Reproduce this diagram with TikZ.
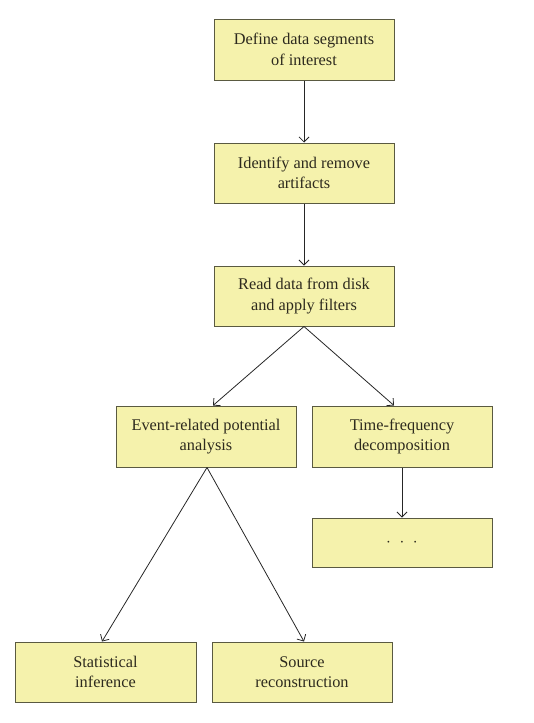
\documentclass[tikz,border=0pt]{standalone}
\usepackage{fontspec}
\setmainfont{Liberation Serif}
\usetikzlibrary{arrows.meta}
\definecolor{boxfill}{RGB}{245,242,172}
\definecolor{boxdraw}{RGB}{90,90,65}
\definecolor{txt}{RGB}{45,42,30}
\tikzset{
  flowbox/.style={draw=boxdraw, line width=1pt, fill=boxfill, minimum width=180pt,
    minimum height=60pt, inner sep=0pt, align=center, text=txt,
    font=\fontsize{16.3}{20.5}\selectfont},
  conn/.style={draw=black!85, line width=0.8pt, -{Straight Barb[length=5pt,width=10pt,line width=0.8pt]}}
}
\begin{document}
\begin{tikzpicture}[x=1pt,y=-1pt]
\useasboundingbox (0,0) rectangle (534,723);
\node[flowbox, minimum height=61pt] (b1) at (304,49.5) {Define data segments\\of interest};
\node[flowbox] (b2) at (304,173) {Identify and remove\\artifacts};
\node[flowbox] (b3) at (304,296) {Read data from disk\\and apply filters};
\node[flowbox, minimum height=61pt] (b4) at (206,436.5) {Event-related potential\\analysis};
\node[flowbox, minimum height=61pt] (b5) at (402,436.5) {Time-frequency\\decomposition};
\node[flowbox, minimum height=49pt] (b6) at (402,542.5) {$\cdot\;\cdot\;\cdot$};
\node[flowbox, minimum width=181pt] (b7) at (105.5,672) {Statistical\\inference};
\node[flowbox] (b8) at (302,672) {Source\\reconstruction};
\draw[conn] (b1.south) -- (b2.north);
\draw[conn] (b2.south) -- (b3.north);
\draw[conn] (b3.south) -- ([xshift=7pt]b4.north);
\draw[conn] (b3.south) -- ([xshift=-8pt]b5.north);
\draw[conn] (b5.south) -- (b6.north);
\draw[conn] ([xshift=1pt]b4.south) -- ([xshift=-3.5pt]b7.north);
\draw[conn] ([xshift=1pt]b4.south) -- ([xshift=2pt]b8.north);
\end{tikzpicture}
\end{document}
